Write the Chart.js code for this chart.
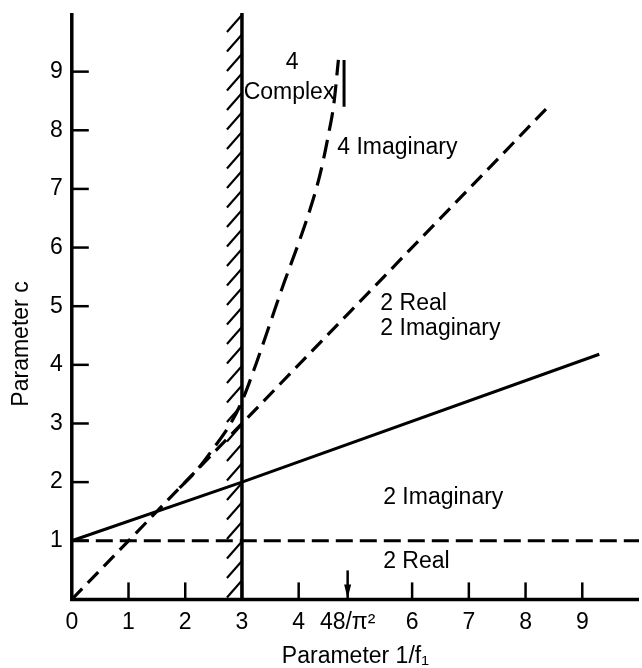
<!DOCTYPE html>
<html><head><meta charset="utf-8">
<script src="https://cdn.jsdelivr.net/npm/chart.js@4/dist/chart.umd.min.js"></script>
<style>html,body{margin:0;padding:0;background:#fff}</style>
</head><body>
<canvas id="chart" width="642" height="668"></canvas>
<script>
// ---- data ----
const xTickValues = [0, 1, 2, 3, 4, 48 / (Math.PI * Math.PI), 6, 7, 8, 9];
const xTickLabels = ['0', '1', '2', '3', '4', '48/\u03c0\u00b2', '6', '7', '8', '9'];
const yTickValues = [1, 2, 3, 4, 5, 6, 7, 8, 9];
const yTickLabels = ['1', '2', '3', '4', '5', '6', '7', '8', '9'];

const cOneX = [0, 10];            // dashed c = 1
const cOneY = [1, 1];
const solidX = [0, 3, 9.3];       // solid line
const solidY = [1, 2, 4.18];
const diagX = [0, 8.4];           // dashed c = 1/f1
const diagY = [0, 8.4];
const curveX = [1.9, 2.2, 2.5, 2.8, 3.0, 3.25, 3.5, 3.75, 4.0, 4.2, 4.38, 4.53, 4.62, 4.70];
const curveY = [1.9, 2.2, 2.58, 3.0, 3.38, 4.02, 4.72, 5.42, 6.08, 6.65, 7.26, 7.95, 8.45, 9.2];
const boundaryX = [3, 3];         // hatched boundary
const boundaryY = [0, 10];
const asymX = [4.8, 4.8];         // short vertical marker
const asymY = [8.4, 9.2];

const labelTexts = ['4', 'Complex', '4 Imaginary', '2 Real', '2 Imaginary', '2 Imaginary', '2 Real'];
const labelX = [3.77, 3.03, 4.68, 5.44, 5.44, 5.49, 5.49];
const labelY = [9.15, 8.65, 7.71, 5.04, 4.62, 1.73, 0.65];

const FONT = '"Liberation Sans", Arial, Helvetica, sans-serif';
const pts = (xs, ys) => xs.map((v, i) => ({x: v, y: ys[i]}));

const lineDs = (data, width, dash, extra) => Object.assign({
  data, showLine: true, borderColor: '#000', backgroundColor: '#000',
  borderWidth: width, borderDash: dash, pointRadius: 0, fill: false,
  borderCapStyle: 'butt'
}, extra || {});

const decor = {
  id: 'decor',
  afterDatasetsDraw(chart) {
    const {ctx, scales: {x, y}} = chart;
    const x0 = x.getPixelForValue(0), y0 = y.getPixelForValue(0);
    ctx.save();
    ctx.strokeStyle = '#000'; ctx.fillStyle = '#000'; ctx.lineCap = 'butt';
    // axes
    ctx.lineWidth = 3.5;
    ctx.beginPath();
    ctx.moveTo(x0, y.getPixelForValue(10));
    ctx.lineTo(x0, y0);
    ctx.lineTo(x.getPixelForValue(10), y0);
    ctx.stroke();
    // inward ticks
    ctx.lineWidth = 2.5;
    xTickValues.forEach((v, i) => {
      if (v === 0) return;
      const px = x.getPixelForValue(v);
      if (i === 5) {
        ctx.beginPath(); ctx.moveTo(px, y0 - 29); ctx.lineTo(px, y0); ctx.stroke();
        ctx.beginPath(); ctx.moveTo(px - 3.5, y0 - 15); ctx.lineTo(px + 3.5, y0 - 15); ctx.lineTo(px, y0 - 1); ctx.closePath(); ctx.fill();
      } else {
        ctx.beginPath(); ctx.moveTo(px, y0 - 17); ctx.lineTo(px, y0); ctx.stroke();
      }
    });
    yTickValues.forEach(v => {
      const py = y.getPixelForValue(v);
      ctx.beginPath(); ctx.moveTo(x0, py); ctx.lineTo(x0 + 17, py); ctx.stroke();
    });
    // hatching left of boundary
    const bx = x.getPixelForValue(boundaryX[0]);
    const top = y.getPixelForValue(boundaryY[1]);
    ctx.lineWidth = 2.2;
    ctx.save();
    ctx.beginPath(); ctx.rect(bx - 20, top, 20, y0 - top); ctx.clip();
    for (let py = top + 2; py < y0 + 18; py += 19.5) {
      ctx.beginPath(); ctx.moveTo(bx - 15, py + 17); ctx.lineTo(bx, py); ctx.stroke();
    }
    ctx.restore();
    // region labels
    ctx.font = '23px ' + FONT;
    ctx.textAlign = 'left'; ctx.textBaseline = 'middle';
    labelTexts.forEach((t, i) => {
      ctx.fillText(t, x.getPixelForValue(labelX[i]), y.getPixelForValue(labelY[i]));
    });
    // y axis title
    ctx.save();
    ctx.translate(22, 344);
    ctx.rotate(-Math.PI / 2);
    ctx.textAlign = 'center';
    ctx.fillText('Parameter c', 0, 0);
    ctx.restore();
    ctx.restore();
  }
};

new Chart(document.getElementById('chart'), {
  type: 'scatter',
  data: {
    datasets: [
      lineDs(pts(cOneX, cOneY), 3, [17, 7]),
      lineDs(pts(solidX, solidY), 3, []),
      lineDs(pts(diagX, diagY), 3.2, [15, 8]),
      lineDs(pts(curveX, curveY), 3.2, [19, 9], {cubicInterpolationMode: 'monotone'}),
      lineDs(pts(boundaryX, boundaryY), 3.5, []),
      lineDs(pts(asymX, asymY), 3, [])
    ]
  },
  options: {
    responsive: false,
    animation: false,
    events: [],
    layout: {padding: {left: 41, right: 3, top: 13, bottom: 0}},
    plugins: {legend: {display: false}, tooltip: {enabled: false}},
    scales: {
      x: {
        type: 'linear', min: 0, max: 10,
        grid: {display: false, drawTicks: false},
        border: {display: false},
        afterBuildTicks: s => { s.ticks = xTickValues.map(v => ({value: v})); },
        ticks: {
          autoSkip: false, maxRotation: 0, padding: 9, color: '#000',
          font: {family: FONT, size: 23},
          callback: (v, i) => xTickLabels[i]
        },
        title: {display: true, text: 'Parameter 1/f\u2081', color: '#000',
          font: {family: FONT, size: 23, lineHeight: 1.0}, padding: {top: 0, bottom: 0}}
      },
      y: {
        type: 'linear', min: 0, max: 10,
        grid: {display: false, drawTicks: false},
        border: {display: false},
        afterBuildTicks: s => { s.ticks = yTickValues.map(v => ({value: v})); },
        afterFit: s => { s.paddingTop = 0; s.paddingBottom = 0; },
        ticks: {
          autoSkip: false, padding: 9, color: '#000',
          font: {family: FONT, size: 23},
          callback: (v, i) => yTickLabels[i]
        }
      }
    }
  },
  plugins: [decor]
});
</script>
</body></html>
